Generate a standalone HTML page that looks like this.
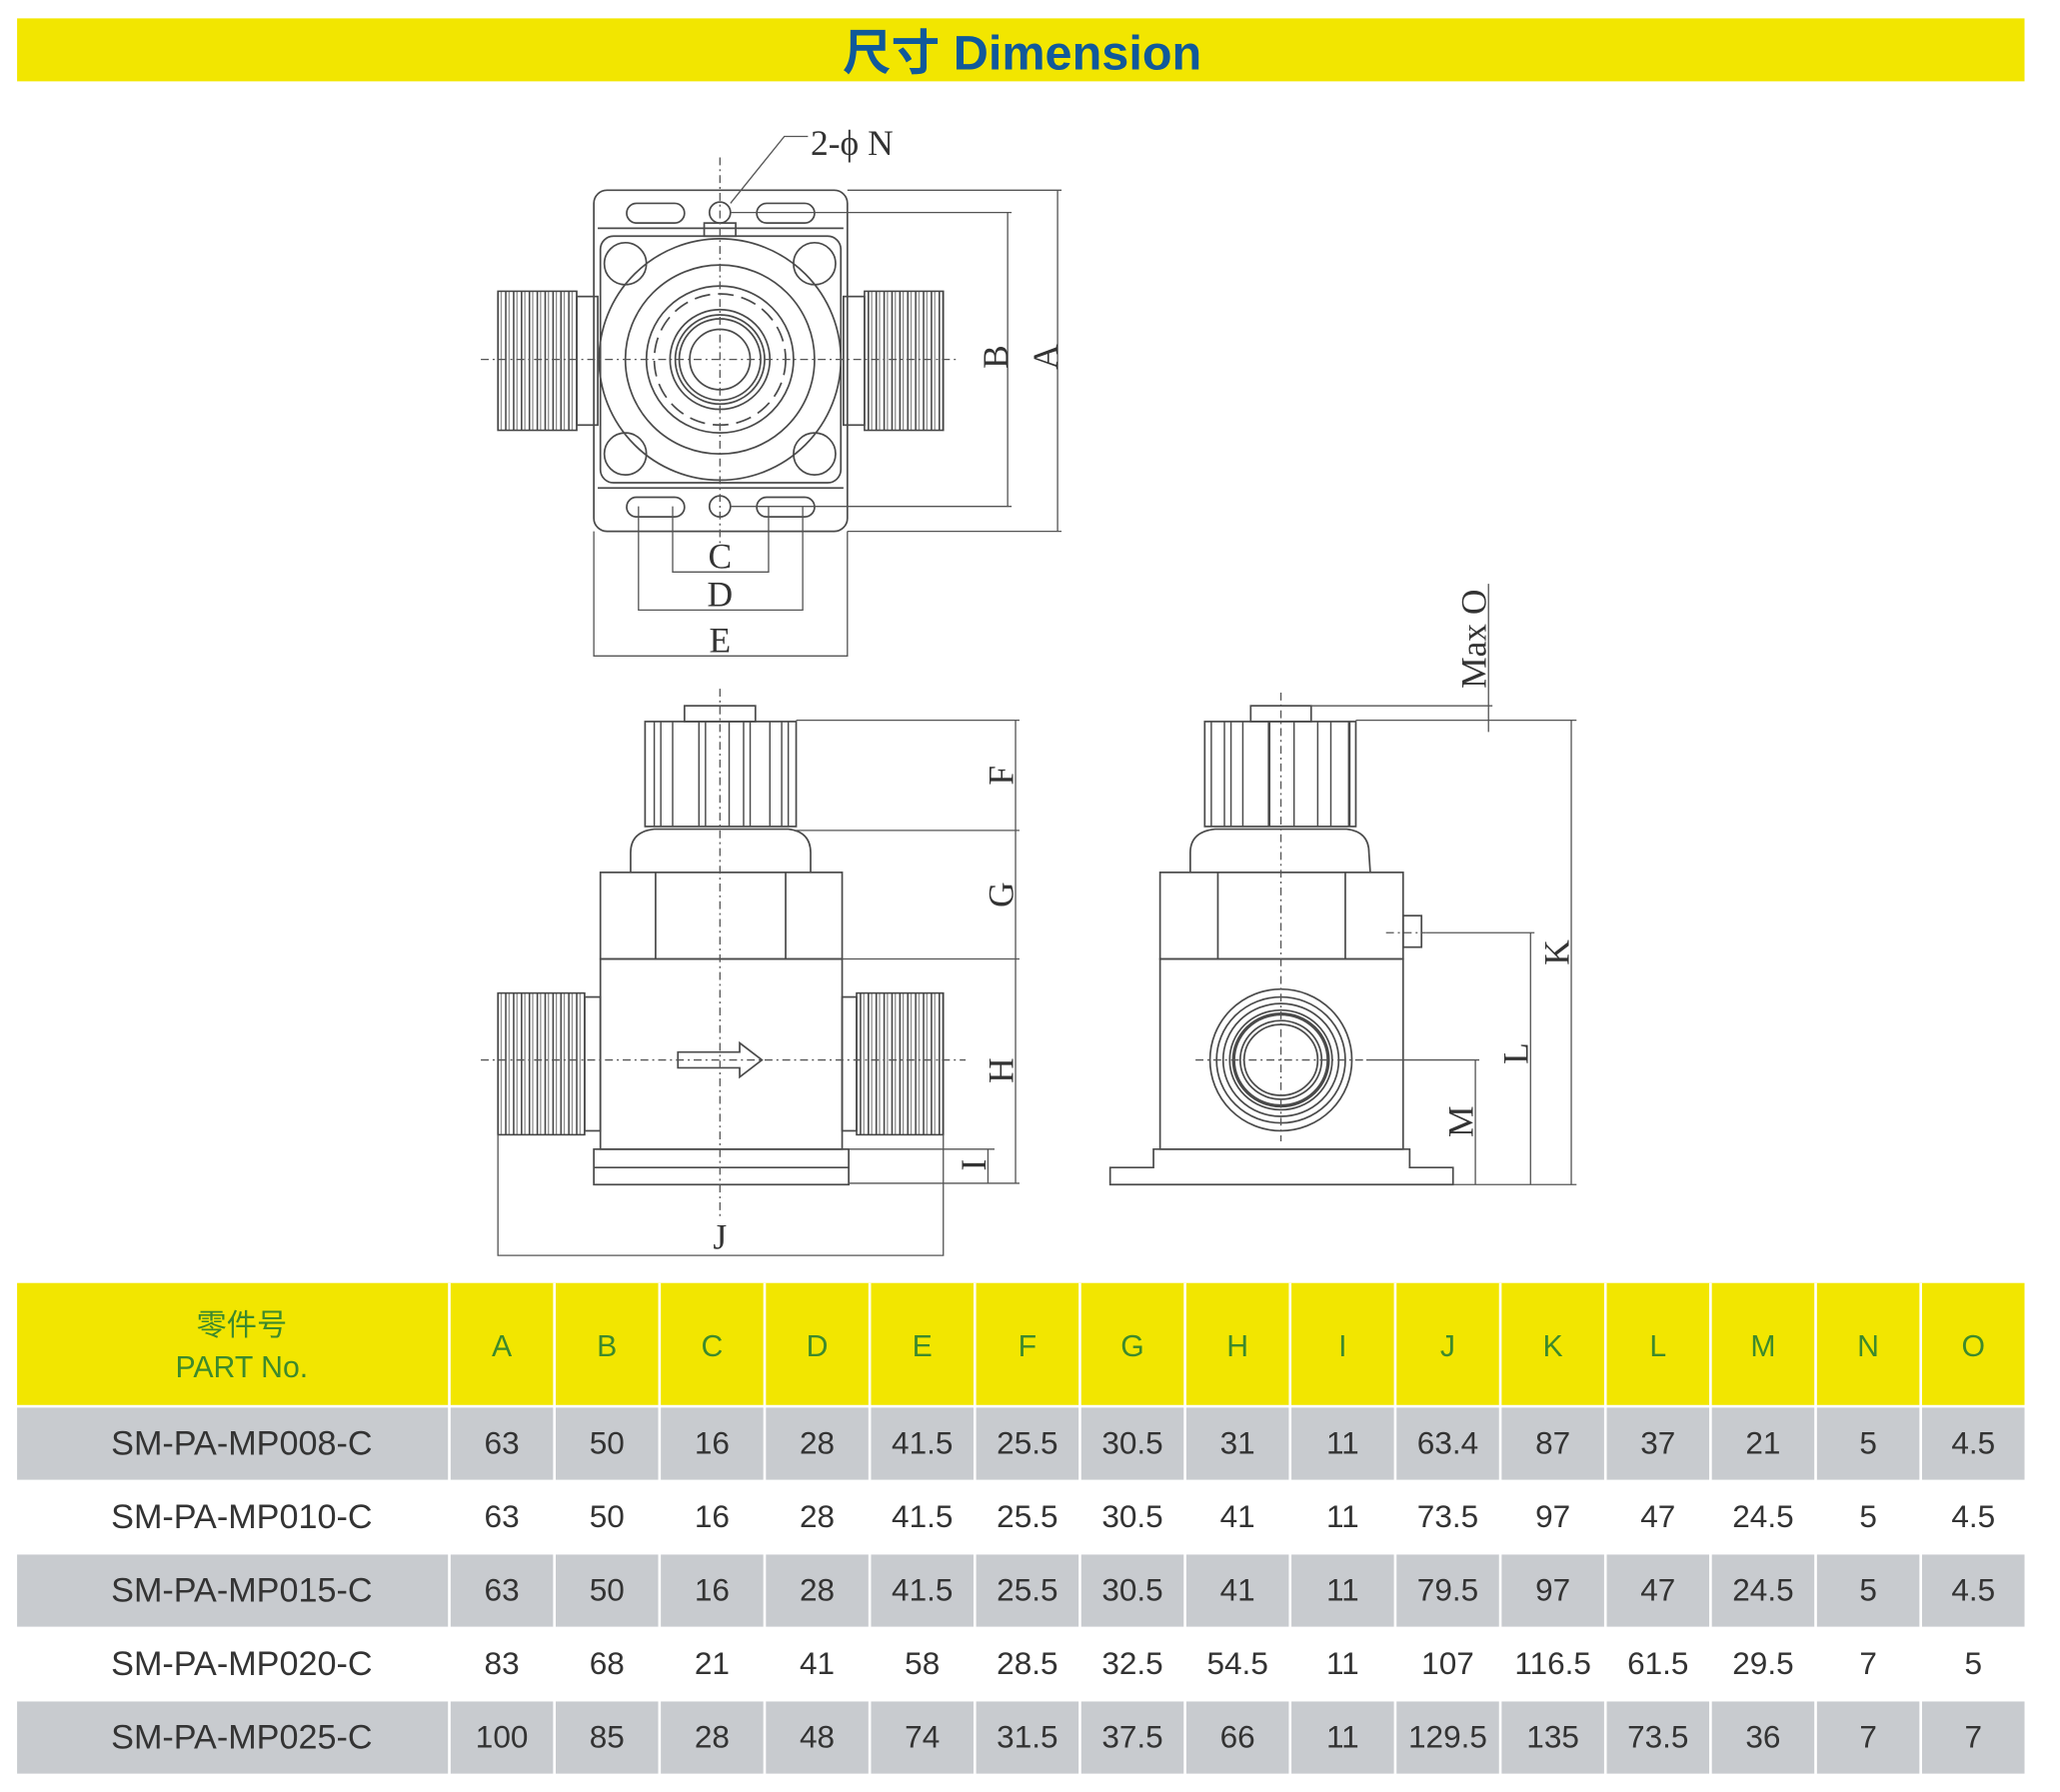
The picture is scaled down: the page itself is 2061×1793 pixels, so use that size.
<!DOCTYPE html>
<html><head><meta charset="utf-8"><style>
html,body{margin:0;padding:0;background:#fff;width:2061px;height:1793px;overflow:hidden}
svg{display:block}
.l{fill:none;stroke:#4a4a4a;stroke-width:1.3}
.t{stroke:#4a4a4a;stroke-width:1.1;fill:none}
.c{fill:none;stroke:#555;stroke-width:1;stroke-dasharray:6 3 1.5 3}
.d{fill:none;stroke:#555;stroke-width:1}
.lb{font-family:"Liberation Serif",serif;font-size:27px;fill:#333}
.h{font-family:"Liberation Sans","Noto Sans CJK SC",sans-serif;font-size:23px;fill:#3d8a2c;text-anchor:middle}
.r{font-family:"Liberation Sans",sans-serif;font-size:24px;fill:#333;text-anchor:middle}
.p{font-size:26px}
</style></head><body>
<svg width="2061" height="1793" viewBox="0 0 1568 1366" preserveAspectRatio="none">
<defs>
<pattern id="th" width="6" height="10" patternUnits="userSpaceOnUse"><rect width="6" height="10" fill="#fff"/><line x1="1" y1="0" x2="1" y2="10" stroke="#444" stroke-width="1.2"/><line x1="3.5" y1="0" x2="3.5" y2="10" stroke="#777" stroke-width="0.8"/></pattern>
</defs>
<rect x="13" y="14" width="1528" height="48" fill="#f2e600"/>
<text x="778" y="53" text-anchor="middle" font-family="'Liberation Sans','Noto Sans CJK SC',sans-serif" font-size="37" font-weight="bold" fill="#10599a">尺寸 Dimension</text>

<!-- TOP VIEW -->
<rect class="l" x="452" y="145" width="193" height="260" rx="10"/>
<line class="l" x1="455" y1="174" x2="642" y2="174"/>
<line class="l" x1="455" y1="372" x2="642" y2="372"/>
<rect class="l" x="477" y="155" width="44" height="15" rx="7.5"/>
<rect class="l" x="576" y="155" width="44" height="15" rx="7.5"/>
<rect class="l" x="477" y="379" width="44" height="15" rx="7.5"/>
<rect class="l" x="576" y="379" width="44" height="15" rx="7.5"/>
<circle class="l" cx="548" cy="162" r="8"/>
<circle class="l" cx="548" cy="386" r="8"/>
<rect class="l" x="536" y="170" width="24" height="10"/>
<rect class="l" x="457" y="180" width="183" height="188" rx="10"/>
<circle class="l" cx="476" cy="201" r="16"/><circle class="l" cx="620" cy="201" r="16"/>
<circle class="l" cx="476" cy="346" r="16"/><circle class="l" cx="620" cy="346" r="16"/>
<circle class="l" cx="548" cy="274" r="92"/>
<circle class="l" cx="548" cy="274" r="72"/>
<circle class="l" cx="548" cy="274" r="56"/>
<circle class="l" cx="548" cy="274" r="50" stroke-dasharray="12 6"/>
<circle class="l" cx="548" cy="274" r="38"/>
<circle class="l" cx="548" cy="274" r="34"/>
<circle class="l" cx="548" cy="274" r="31"/>
<circle class="l" cx="548" cy="274" r="23" stroke-width="2.2"/>
<rect x="379" y="222" width="60" height="106" fill="url(#th)" stroke="#444" stroke-width="1.2"/>
<rect class="l" x="439" y="226" width="16" height="98"/>
<rect x="658" y="222" width="60" height="106" fill="url(#th)" stroke="#444" stroke-width="1.2"/>
<rect class="l" x="642" y="226" width="16" height="98"/>
<line class="c" x1="366" y1="274" x2="730" y2="274"/>
<line class="c" x1="548" y1="120" x2="548" y2="416"/>
<polyline class="d" points="645,145 808,145"/><polyline class="d" points="645,405 808,405"/>
<line class="d" x1="805" y1="145" x2="805" y2="405"/>
<polyline class="d" points="556,162 770,162"/><polyline class="d" points="556,386 770,386"/>
<line class="d" x1="767" y1="162" x2="767" y2="386"/>
<text class="lb" transform="translate(805,272) rotate(-90)" text-anchor="middle">A</text>
<text class="lb" transform="translate(767,272) rotate(-90)" text-anchor="middle">B</text>
<polyline class="d" points="512,386 512,436 585,436 585,386"/>
<polyline class="d" points="486,386 486,465 611,465 611,386"/>
<polyline class="d" points="452,405 452,500 645,500 645,405"/>
<text class="lb" x="548" y="433" text-anchor="middle">C</text>
<text class="lb" x="548" y="462" text-anchor="middle">D</text>
<text class="lb" x="548" y="497" text-anchor="middle">E</text>
<polyline class="d" points="556,155 597,104 615,104"/>
<text class="lb" x="617" y="118">2-ϕ N</text>

<!-- FRONT VIEW -->
<rect class="l" x="521" y="538" width="54" height="12"/>
<rect class="l" x="491" y="550" width="115" height="80"/>
<g class="t">
<line x1="498" y1="550" x2="498" y2="630"/><line x1="503" y1="550" x2="503" y2="630"/>
<line x1="512" y1="550" x2="512" y2="630"/><line x1="532" y1="550" x2="532" y2="630"/>
<line x1="537" y1="550" x2="537" y2="630"/><line x1="555" y1="550" x2="555" y2="630"/>
<line x1="566" y1="550" x2="566" y2="630"/><line x1="571" y1="550" x2="571" y2="630"/>
<line x1="586" y1="550" x2="586" y2="630"/><line x1="595" y1="550" x2="595" y2="630"/>
<line x1="600" y1="550" x2="600" y2="630"/>
</g>
<path class="l" d="M480,665 L480,650 Q480,634 498,632 L600,632 Q617,634 617,650 L617,665"/>
<rect class="l" x="457" y="665" width="184" height="66"/>
<line class="l" x1="499" y1="665" x2="499" y2="731"/><line class="l" x1="598" y1="665" x2="598" y2="731"/>
<rect class="l" x="457" y="731" width="184" height="145"/>
<rect class="l" x="452" y="876" width="194" height="27"/>
<line class="l" x1="452" y1="890" x2="646" y2="890"/>
<rect x="379" y="757" width="66" height="108" fill="url(#th)" stroke="#444" stroke-width="1.2"/>
<rect class="l" x="445" y="760" width="12" height="102"/>
<rect x="652" y="757" width="66" height="108" fill="url(#th)" stroke="#444" stroke-width="1.2"/>
<rect class="l" x="641" y="760" width="11" height="102"/>
<path class="l" d="M516,802 L563,802 L563,795 L580,808 L563,821 L563,814 L516,814 Z" fill="#fff"/>
<line class="c" x1="366" y1="808" x2="735" y2="808"/>
<line class="c" x1="548" y1="525" x2="548" y2="930"/>
<line class="d" x1="606" y1="549" x2="776" y2="549"/>
<line class="d" x1="606" y1="633" x2="776" y2="633"/>
<line class="d" x1="641" y1="731" x2="776" y2="731"/>
<line class="d" x1="646" y1="902" x2="776" y2="902"/>
<line class="d" x1="773" y1="549" x2="773" y2="902"/>
<line class="d" x1="646" y1="876" x2="757" y2="876"/>
<line class="d" x1="752" y1="876" x2="752" y2="902"/>
<text class="lb" transform="translate(771,591) rotate(-90)" text-anchor="middle">F</text>
<text class="lb" transform="translate(771,682) rotate(-90)" text-anchor="middle">G</text>
<text class="lb" transform="translate(771,816) rotate(-90)" text-anchor="middle">H</text>
<text class="lb" transform="translate(750,888) rotate(-90)" text-anchor="middle">I</text>
<polyline class="d" points="379,865 379,957 718,957 718,865"/>
<text class="lb" x="548" y="952" text-anchor="middle">J</text>

<!-- SIDE VIEW -->
<rect class="l" x="952" y="538" width="46" height="12"/>
<rect class="l" x="917" y="550" width="115" height="80"/>
<g class="t">
<line x1="922" y1="550" x2="922" y2="630"/><line x1="932" y1="550" x2="932" y2="630"/>
<line x1="937" y1="550" x2="937" y2="630"/><line x1="946" y1="550" x2="946" y2="630"/>
<line x1="966" y1="550" x2="966" y2="630" stroke-width="2"/><line x1="985" y1="550" x2="985" y2="630"/>
<line x1="1003" y1="550" x2="1003" y2="630"/><line x1="1013" y1="550" x2="1013" y2="630"/>
<line x1="1027" y1="550" x2="1027" y2="630" stroke-width="2"/>
</g>
<path class="l" d="M906,665 L906,650 Q906,634 925,632 L1025,632 Q1042,634 1042,650 L1043,665"/>
<rect class="l" x="883" y="665" width="185" height="66"/>
<line class="l" x1="927" y1="665" x2="927" y2="731"/><line class="l" x1="1024" y1="665" x2="1024" y2="731"/>
<rect class="l" x="883" y="731" width="185" height="145"/>
<rect class="l" x="1068" y="698" width="14" height="24"/>
<path class="l" d="M878,876 L1073,876 L1073,890 L1106,890 L1106,903 L845,903 L845,890 L878,890 Z"/>
<g class="l">
<ellipse cx="975" cy="808" rx="54" ry="54"/><ellipse cx="975" cy="808" rx="49" ry="48"/>
<ellipse cx="975" cy="808" rx="44" ry="43"/><ellipse cx="975" cy="808" rx="39" ry="38"/>
<ellipse cx="975" cy="808" rx="36" ry="35" stroke-width="2.5"/><ellipse cx="975" cy="808" rx="31" ry="30"/>
<ellipse cx="975" cy="808" rx="28" ry="27"/>
</g>
<line class="c" x1="975" y1="528" x2="975" y2="870"/>
<line class="c" x1="910" y1="808" x2="1040" y2="808"/>
<line class="c" x1="1055" y1="711" x2="1085" y2="711"/>
<line class="d" x1="998" y1="538" x2="1136" y2="538"/>
<line class="d" x1="1032" y1="549" x2="1200" y2="549"/>
<line class="d" x1="1133" y1="445" x2="1133" y2="558"/>
<text class="lb" transform="translate(1131,487) rotate(-90)" text-anchor="middle" font-size="24">Max O</text>
<line class="d" x1="1196" y1="549" x2="1196" y2="903"/>
<line class="d" x1="1085" y1="711" x2="1168" y2="711"/>
<line class="d" x1="1165" y1="711" x2="1165" y2="903"/>
<line class="d" x1="1040" y1="808" x2="1126" y2="808"/>
<line class="d" x1="1123" y1="808" x2="1123" y2="903"/>
<line class="d" x1="1106" y1="903" x2="1200" y2="903"/>
<text class="lb" transform="translate(1194,726) rotate(-90)" text-anchor="middle">K</text>
<text class="lb" transform="translate(1163,803) rotate(-90)" text-anchor="middle">L</text>
<text class="lb" transform="translate(1121,855) rotate(-90)" text-anchor="middle">M</text>

<!-- TABLE -->
<rect x="13" y="978" width="1528" height="93" fill="#f2e600"/>
<rect x="13" y="1073" width="1528" height="55" fill="#c8cbcf"/>
<rect x="13" y="1185" width="1528" height="55" fill="#c8cbcf"/>
<rect x="13" y="1297" width="1528" height="55" fill="#c8cbcf"/>
<g stroke="#fff" stroke-width="2">
<line x1="342" y1="978" x2="342" y2="1353"/>
<line x1="422" y1="978" x2="422" y2="1353"/><line x1="502" y1="978" x2="502" y2="1353"/>
<line x1="582" y1="978" x2="582" y2="1353"/><line x1="662" y1="978" x2="662" y2="1353"/>
<line x1="742" y1="978" x2="742" y2="1353"/><line x1="822" y1="978" x2="822" y2="1353"/>
<line x1="902" y1="978" x2="902" y2="1353"/><line x1="982" y1="978" x2="982" y2="1353"/>
<line x1="1062" y1="978" x2="1062" y2="1353"/><line x1="1142" y1="978" x2="1142" y2="1353"/>
<line x1="1222" y1="978" x2="1222" y2="1353"/><line x1="1302" y1="978" x2="1302" y2="1353"/>
<line x1="1382" y1="978" x2="1382" y2="1353"/><line x1="1462" y1="978" x2="1462" y2="1353"/>
</g>
<text class="h" x="184" y="1018" font-size="21">零件号</text>
<text class="h" x="184" y="1050">PART No.</text>
<g class="h">
<text x="382" y="1034">A</text><text x="462" y="1034">B</text><text x="542" y="1034">C</text><text x="622" y="1034">D</text><text x="702" y="1034">E</text><text x="782" y="1034">F</text><text x="862" y="1034">G</text><text x="942" y="1034">H</text><text x="1022" y="1034">I</text><text x="1102" y="1034">J</text><text x="1182" y="1034">K</text><text x="1262" y="1034">L</text><text x="1342" y="1034">M</text><text x="1422" y="1034">N</text><text x="1502" y="1034">O</text>
</g>
<g class="r">
<text class="p" x="184" y="1109">SM-PA-MP008-C</text><text x="382" y="1108">63</text><text x="462" y="1108">50</text><text x="542" y="1108">16</text><text x="622" y="1108">28</text><text x="702" y="1108">41.5</text><text x="782" y="1108">25.5</text><text x="862" y="1108">30.5</text><text x="942" y="1108">31</text><text x="1022" y="1108">11</text><text x="1102" y="1108">63.4</text><text x="1182" y="1108">87</text><text x="1262" y="1108">37</text><text x="1342" y="1108">21</text><text x="1422" y="1108">5</text><text x="1502" y="1108">4.5</text>
<text class="p" x="184" y="1165">SM-PA-MP010-C</text><text x="382" y="1164">63</text><text x="462" y="1164">50</text><text x="542" y="1164">16</text><text x="622" y="1164">28</text><text x="702" y="1164">41.5</text><text x="782" y="1164">25.5</text><text x="862" y="1164">30.5</text><text x="942" y="1164">41</text><text x="1022" y="1164">11</text><text x="1102" y="1164">73.5</text><text x="1182" y="1164">97</text><text x="1262" y="1164">47</text><text x="1342" y="1164">24.5</text><text x="1422" y="1164">5</text><text x="1502" y="1164">4.5</text>
<text class="p" x="184" y="1221">SM-PA-MP015-C</text><text x="382" y="1220">63</text><text x="462" y="1220">50</text><text x="542" y="1220">16</text><text x="622" y="1220">28</text><text x="702" y="1220">41.5</text><text x="782" y="1220">25.5</text><text x="862" y="1220">30.5</text><text x="942" y="1220">41</text><text x="1022" y="1220">11</text><text x="1102" y="1220">79.5</text><text x="1182" y="1220">97</text><text x="1262" y="1220">47</text><text x="1342" y="1220">24.5</text><text x="1422" y="1220">5</text><text x="1502" y="1220">4.5</text>
<text class="p" x="184" y="1277">SM-PA-MP020-C</text><text x="382" y="1276">83</text><text x="462" y="1276">68</text><text x="542" y="1276">21</text><text x="622" y="1276">41</text><text x="702" y="1276">58</text><text x="782" y="1276">28.5</text><text x="862" y="1276">32.5</text><text x="942" y="1276">54.5</text><text x="1022" y="1276">11</text><text x="1102" y="1276">107</text><text x="1182" y="1276">116.5</text><text x="1262" y="1276">61.5</text><text x="1342" y="1276">29.5</text><text x="1422" y="1276">7</text><text x="1502" y="1276">5</text>
<text class="p" x="184" y="1333">SM-PA-MP025-C</text><text x="382" y="1332">100</text><text x="462" y="1332">85</text><text x="542" y="1332">28</text><text x="622" y="1332">48</text><text x="702" y="1332">74</text><text x="782" y="1332">31.5</text><text x="862" y="1332">37.5</text><text x="942" y="1332">66</text><text x="1022" y="1332">11</text><text x="1102" y="1332">129.5</text><text x="1182" y="1332">135</text><text x="1262" y="1332">73.5</text><text x="1342" y="1332">36</text><text x="1422" y="1332">7</text><text x="1502" y="1332">7</text>
</g>
</svg>
</body></html>
